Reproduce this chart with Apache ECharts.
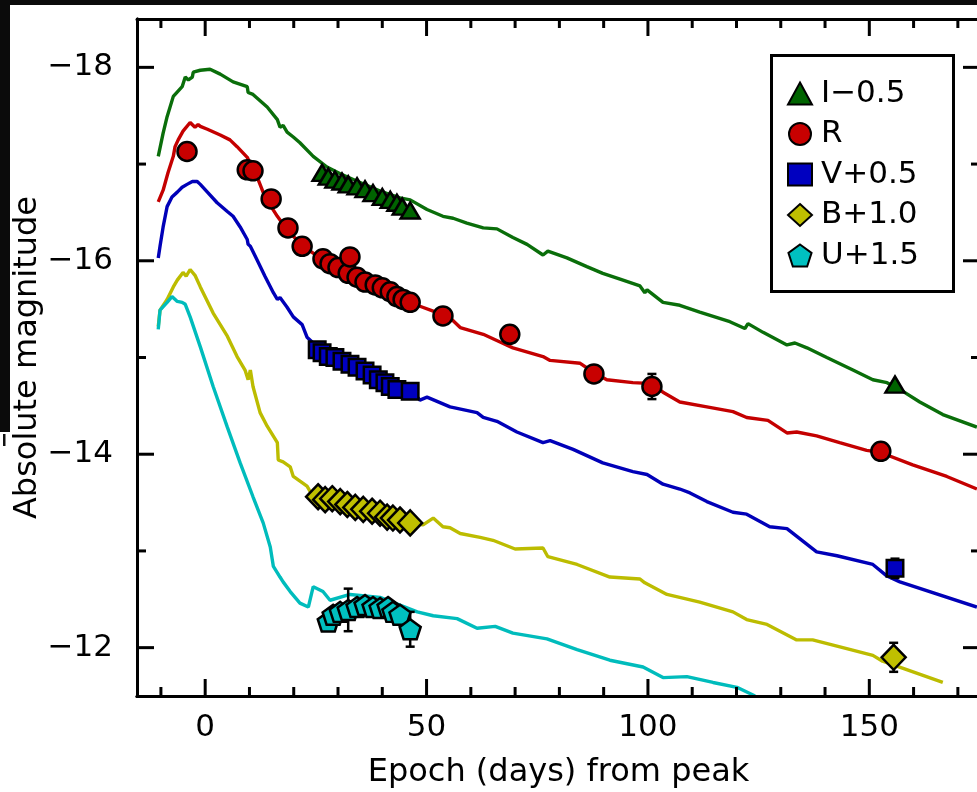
<!DOCTYPE html>
<html>
<head>
<meta charset="utf-8">
<script src="https://cdn.jsdelivr.net/npm/echarts@6/dist/echarts.min.js"></script>
<style>
  html, body { margin: 0; padding: 0; background: #fff; }
  #wrap { position: relative; width: 977px; height: 792px; }
  #chart, #frame { position: absolute; left: 0; top: 0; width: 977px; height: 792px; }
  #frame { pointer-events: none; }
</style>
</head>
<body>
<div id="wrap">
  <div id="chart"></div>
  <div id="frame"></div>
</div>
<script>
// Axis ranges and tick positions
const X_MIN = -15.4, X_MAX = 175;
const Y_MIN = -18.5, Y_MAX = -11.5;
const xMajorTicks = [0, 50, 100, 150];
const xMinorTicks = [-10, 10, 20, 30, 40, 60, 70, 80, 90, 110, 120, 130, 140, 160, 170];
const yMajorTicks = [-18, -16, -14, -12];
const yMinorTicks = [-17, -15, -13];

// Band names (offsets applied as listed)
const bandNames = ['I\u22120.5', 'R', 'V+0.5', 'B+1.0', 'U+1.5'];

// Template light curves: [days from peak, absolute magnitude]
const iLine = [[-10.6,-17.08],[-9.5,-17.32],[-8.6,-17.49],[-7.2,-17.70],[-5.2,-17.80],[-4.5,-17.90],[-3.8,-17.87],[-2.9,-17.90],[-2.7,-17.95],[-1.1,-17.97],[1.1,-17.98],[3.4,-17.93],[6.3,-17.85],[9.5,-17.80],[9.7,-17.74],[10.8,-17.72],[14.0,-17.59],[16.3,-17.46],[16.9,-17.38],[17.6,-17.40],[18.5,-17.33],[19.9,-17.28],[21.4,-17.22],[24.4,-17.08],[27.5,-16.97],[30.5,-16.90],[35.0,-16.81],[39.5,-16.72],[44.0,-16.65],[46.3,-16.63],[50.1,-16.53],[53.7,-16.46],[56.0,-16.44],[59.1,-16.39],[62.8,-16.34],[65.9,-16.33],[69.5,-16.24],[72.7,-16.17],[76.3,-16.06],[77.4,-16.10],[81.7,-16.03],[86.2,-15.94],[89.8,-15.87],[93.7,-15.81],[98.2,-15.74],[99.3,-15.67],[99.8,-15.70],[103.4,-15.57],[107.2,-15.54],[111.7,-15.47],[118.5,-15.37],[121.9,-15.30],[122.6,-15.35],[126.0,-15.26],[131.4,-15.13],[133.2,-15.15],[135.9,-15.10],[140.4,-15.00],[146.3,-14.87],[150.8,-14.77],[154.0,-14.74],[157.6,-14.65],[161.4,-14.54],[166.6,-14.41],[174.3,-14.28]];
const rLine = [[-10.6,-16.61],[-9.5,-16.73],[-8.4,-16.91],[-7.2,-17.08],[-6.8,-17.18],[-6.1,-17.25],[-5.0,-17.34],[-3.4,-17.43],[-2.3,-17.38],[-1.6,-17.41],[-1.1,-17.39],[0.5,-17.36],[3.4,-17.30],[5.6,-17.25],[7.2,-17.18],[9.5,-17.07],[10.8,-16.94],[11.7,-16.87],[13.5,-16.66],[16.3,-16.46],[18.5,-16.32],[22.1,-16.15],[25.3,-16.05],[28.2,-15.98],[32.7,-15.89],[37.2,-15.78],[41.8,-15.67],[46.3,-15.58],[48.5,-15.53],[51.5,-15.48],[55.3,-15.41],[57.6,-15.31],[62.8,-15.24],[66.6,-15.16],[69.5,-15.10],[76.3,-15.01],[77.9,-14.97],[84.7,-14.94],[87.6,-14.85],[90.7,-14.77],[96.6,-14.74],[101.1,-14.73],[103.4,-14.64],[107.2,-14.54],[113.3,-14.49],[119.2,-14.44],[122.3,-14.38],[127.1,-14.35],[131.4,-14.22],[133.6,-14.23],[138.1,-14.19],[143.3,-14.12],[149.4,-14.04],[152.4,-14.02],[159.8,-13.89],[167.5,-13.77],[174.3,-13.64]];
const vLine = [[-10.6,-16.03],[-10.2,-16.15],[-9.5,-16.35],[-8.6,-16.56],[-7.5,-16.66],[-6.3,-16.71],[-5.2,-16.76],[-4.1,-16.79],[-2.9,-16.82],[-2.7,-16.84],[-1.8,-16.82],[-1.1,-16.79],[0.5,-16.71],[2.7,-16.60],[5.0,-16.51],[6.3,-16.46],[7.9,-16.35],[9.5,-16.22],[9.7,-16.17],[10.2,-16.15],[11.7,-16.01],[13.5,-15.84],[15.4,-15.67],[16.3,-15.60],[16.9,-15.62],[18.5,-15.52],[19.9,-15.42],[21.9,-15.34],[23.0,-15.21],[24.4,-15.15],[26.0,-15.08],[30.5,-14.98],[35.0,-14.88],[39.5,-14.77],[44.0,-14.68],[47.0,-14.64],[48.5,-14.56],[50.1,-14.59],[55.3,-14.49],[61.4,-14.43],[62.8,-14.38],[65.9,-14.34],[70.4,-14.23],[76.3,-14.12],[77.9,-14.14],[83.1,-14.05],[89.8,-13.91],[96.6,-13.82],[99.8,-13.79],[103.4,-13.69],[107.2,-13.64],[109.5,-13.60],[113.3,-13.51],[119.2,-13.40],[122.3,-13.38],[127.5,-13.25],[131.4,-13.23],[138.1,-12.99],[142.7,-12.95],[150.8,-12.86],[154.0,-12.74],[156.9,-12.68],[174.3,-12.42]];
const bLine = [[-10.6,-15.32],[-10.2,-15.49],[-8.6,-15.60],[-7.2,-15.73],[-6.3,-15.80],[-5.0,-15.88],[-4.3,-15.84],[-3.4,-15.91],[-2.3,-15.85],[-1.1,-15.73],[1.8,-15.46],[5.0,-15.22],[7.2,-15.01],[9.0,-14.87],[9.7,-14.77],[10.2,-14.87],[10.8,-14.70],[12.4,-14.43],[14.0,-14.29],[16.3,-14.12],[16.5,-13.94],[17.6,-13.92],[19.2,-13.87],[19.9,-13.77],[23.0,-13.67],[24.4,-13.56],[26.0,-13.53],[30.5,-13.48],[35.0,-13.42],[39.5,-13.35],[44.0,-13.31],[47.0,-13.28],[49.2,-13.27],[51.5,-13.34],[53.7,-13.25],[55.3,-13.24],[57.6,-13.18],[62.1,-13.14],[65.0,-13.11],[70.0,-13.02],[76.3,-13.03],[77.4,-12.94],[84.0,-12.86],[91.4,-12.73],[98.2,-12.71],[99.3,-12.67],[104.3,-12.55],[111.7,-12.47],[119.2,-12.37],[122.3,-12.29],[126.9,-12.24],[133.6,-12.08],[137.2,-12.08],[144.9,-11.99],[150.8,-11.92],[153.0,-11.86],[166.6,-11.64]];
const uLine = [[-10.6,-15.29],[-10.2,-15.49],[-8.6,-15.57],[-7.5,-15.63],[-6.3,-15.58],[-5.2,-15.57],[-4.5,-15.55],[-3.4,-15.42],[-1.1,-15.11],[1.8,-14.70],[5.0,-14.28],[7.9,-13.91],[10.8,-13.56],[13.1,-13.29],[14.7,-13.04],[15.4,-12.84],[16.9,-12.73],[17.6,-12.68],[19.2,-12.58],[21.4,-12.46],[23.3,-12.42],[24.4,-12.63],[26.6,-12.58],[28.2,-12.49],[32.7,-12.55],[39.5,-12.52],[47.9,-12.37],[51.5,-12.33],[56.9,-12.30],[61.4,-12.20],[65.5,-12.22],[69.5,-12.15],[77.2,-12.09],[84.0,-11.98],[91.4,-11.87],[98.9,-11.80],[103.4,-11.69],[108.8,-11.70],[114.7,-11.64],[120.1,-11.59],[124.2,-11.50]];

// Photometry: [days from peak, absolute magnitude, error]
const iPts = [[26.4,-16.91,0],[27.8,-16.87,0],[29.3,-16.84,0],[30.9,-16.82,0],[32.3,-16.79,0],[34.3,-16.77,0],[36.1,-16.74,0],[37.9,-16.70,0],[40.0,-16.66,0],[41.8,-16.63,0],[43.3,-16.60,0],[44.5,-16.56,0],[46.3,-16.52,0],[155.8,-14.72,0]];
const rPts = [[-4.1,-17.13,0],[9.5,-16.94,0],[10.8,-16.93,0],[14.9,-16.64,0],[18.7,-16.34,0],[21.9,-16.15,0],[26.6,-16.02,0],[28.2,-15.97,0],[30.0,-15.93,0],[32.3,-15.87,0],[32.7,-16.04,0],[34.3,-15.83,0],[36.1,-15.78,0],[38.4,-15.75,0],[40.0,-15.72,0],[41.8,-15.68,0],[43.3,-15.63,0],[44.7,-15.60,0],[46.3,-15.57,0],[53.7,-15.43,0],[68.8,-15.24,0],[87.8,-14.83,0],[100.9,-14.70,0.13],[152.6,-14.03,0]];
const vPts = [[25.3,-15.08,0],[26.4,-15.05,0],[27.8,-15.01,0],[29.3,-15.00,0],[30.9,-14.96,0],[32.7,-14.93,0],[34.3,-14.90,0],[36.1,-14.86,0],[37.7,-14.82,0],[39.1,-14.77,0],[40.6,-14.74,0],[41.8,-14.70,0],[43.3,-14.67,0],[46.3,-14.65,0],[155.8,-12.82,0.1]];
const bPts = [[25.5,-13.56,0],[27.1,-13.53,0],[28.7,-13.54,0],[30.5,-13.51,0],[32.1,-13.48,0],[33.9,-13.45,0],[35.7,-13.43,0],[37.7,-13.41,0],[39.5,-13.39,0],[41.1,-13.35,0],[42.4,-13.34,0],[44.0,-13.32,0],[46.3,-13.29,0],[155.5,-11.90,0.15]];
const uPts = [[27.8,-12.27,0],[28.9,-12.34,0],[30.5,-12.37,0],[32.3,-12.39,0.22],[34.3,-12.42,0],[36.1,-12.44,0],[37.9,-12.42,0],[39.5,-12.41,0],[41.3,-12.42,0],[42.4,-12.37,0],[44.0,-12.34,0],[46.3,-12.19,0.18]];

// Styling per band
const lineColors = ['#0a6e0a', '#c40000', '#0000b8', '#bcbc00', '#00bcbc'];
const fillColors = ['#006400', '#c80000', '#0000c0', '#bfbf00', '#00c0c0'];
const PENTAGON = 'path://M50 0 L97.55 34.55 L79.39 90.45 L20.61 90.45 L2.45 34.55 Z';
const symbols = ['triangle', 'circle', 'rect', 'diamond', PENTAGON];
const symbolSizes = [[19, 16], 19, 16.5, [24, 25], [21, 20]];

const FONT = 'DejaVu Sans';
const MAJOR_LEN = 17, MINOR_LEN = 9, TICK_W = 3;
const GRID = { left: 137, right: -3, top: 19, bottom: 96, outerBoundsMode: 'none' };
const lines = [iLine, rLine, vLine, bLine, uLine];
const points = [iPts, rPts, vPts, bPts, uPts];

function minusSign(v) { return String(v).replace('-', '\u2212'); }

// Error bars with small caps
function renderErrorBar(params, api) {
  const x = api.value(0), y = api.value(1), e = api.value(2);
  const top = api.coord([x, y - e]);
  const bot = api.coord([x, y + e]);
  const cap = 4.5, w = 2.5;
  return { type: 'group', children: [
    { type: 'rect', shape: { x: top[0] - w / 2, y: top[1], width: w, height: bot[1] - top[1] }, style: { fill: '#000' } },
    { type: 'rect', shape: { x: top[0] - cap, y: top[1] - w / 2, width: cap * 2, height: w }, style: { fill: '#000' } },
    { type: 'rect', shape: { x: bot[0] - cap, y: bot[1] - w / 2, width: cap * 2, height: w }, style: { fill: '#000' } }
  ] };
}

// Inward tick marks on all four sides, placed through the axis scales
function renderXTick(params, api) {
  const v = api.value(0), len = api.value(2);
  const b = api.coord([v, Y_MAX]);
  const t = api.coord([v, Y_MIN]);
  return { type: 'group', children: [
    { type: 'rect', shape: { x: b[0] - TICK_W / 2, y: b[1] - len, width: TICK_W, height: len }, style: { fill: '#000' } },
    { type: 'rect', shape: { x: t[0] - TICK_W / 2, y: t[1], width: TICK_W, height: len }, style: { fill: '#000' } }
  ] };
}
function renderYTick(params, api) {
  const v = api.value(1), len = api.value(2);
  const l = api.coord([X_MIN, v]);
  const r = api.coord([X_MAX, v]);
  return { type: 'group', children: [
    { type: 'rect', shape: { x: l[0], y: l[1] - TICK_W / 2, width: len, height: TICK_W }, style: { fill: '#000' } },
    { type: 'rect', shape: { x: r[0] - len, y: r[1] - TICK_W / 2, width: len, height: TICK_W }, style: { fill: '#000' } }
  ] };
}
const xTickData = xMajorTicks.map(v => [v, Y_MAX, MAJOR_LEN]).concat(xMinorTicks.map(v => [v, Y_MAX, MINOR_LEN]));
const yTickData = yMajorTicks.map(v => [X_MIN, v, MAJOR_LEN]).concat(yMinorTicks.map(v => [X_MIN, v, MINOR_LEN]));

// Main plot: curves, photometry, labels and legend
const series = [];
lines.forEach((ln, i) => {
  series.push({
    name: bandNames[i] + ' template', type: 'line', data: ln,
    showSymbol: false, symbol: 'none', smooth: false, z: 2,
    lineStyle: { color: lineColors[i], width: 3.4 }
  });
});
const errData = [];
points.forEach(p => p.forEach(d => { if (d[2] > 0) errData.push(d); }));
series.push({ name: 'errors', type: 'custom', z: 3, clip: false, renderItem: renderErrorBar, data: errData });
points.forEach((p, i) => {
  series.push({
    name: bandNames[i], type: 'scatter', z: 4,
    data: p.map(d => [d[0], d[1]]),
    symbol: symbols[i], symbolSize: symbolSizes[i],
    itemStyle: { color: fillColors[i], borderColor: '#000', borderWidth: 2.5, opacity: 1 }
  });
});

const chart = echarts.init(document.getElementById('chart'));
chart.setOption({
  backgroundColor: '#fff',
  animation: false,
  textStyle: { fontFamily: FONT },
  grid: GRID,
  xAxis: [
    {
      type: 'value', position: 'bottom', min: X_MIN, max: X_MAX,
      axisLine: { show: true, onZero: false, lineStyle: { color: '#000', width: 3 } },
      axisTick: { show: false }, splitLine: { show: false },
      axisLabel: { show: true, customValues: xMajorTicks, margin: 16, color: '#000', fontSize: 31, fontFamily: FONT, formatter: minusSign },
      name: 'Epoch (days) from peak', nameLocation: 'middle', nameGap: 61, nameMoveOverlap: false,
      nameTextStyle: { color: '#000', fontSize: 32, fontFamily: FONT }
    },
    {
      type: 'value', position: 'top', min: X_MIN, max: X_MAX,
      axisLine: { show: true, onZero: false, lineStyle: { color: '#000', width: 3 } },
      axisTick: { show: false }, axisLabel: { show: false }, splitLine: { show: false }
    }
  ],
  yAxis: [
    {
      type: 'value', position: 'left', min: Y_MIN, max: Y_MAX, inverse: true,
      axisLine: { show: true, onZero: false, lineStyle: { color: '#000', width: 3 } },
      axisTick: { show: false }, splitLine: { show: false },
      axisLabel: { show: true, customValues: yMajorTicks, margin: 24, color: '#000', fontSize: 31, fontFamily: FONT, formatter: minusSign },
      name: 'Absolute magnitude', nameLocation: 'middle', nameGap: 93, nameMoveOverlap: false,
      nameTextStyle: { color: '#000', fontSize: 32, fontFamily: FONT }
    },
    {
      type: 'value', position: 'right', min: Y_MIN, max: Y_MAX, inverse: true,
      axisLine: { show: true, onZero: false, lineStyle: { color: '#000', width: 3 } },
      axisTick: { show: false }, axisLabel: { show: false }, splitLine: { show: false }
    }
  ],
  legend: {
    data: bandNames, orient: 'vertical', left: 782, top: 73,
    itemWidth: 24, itemHeight: 22, itemGap: 9.5, selectedMode: false,
    textStyle: { color: '#000', fontSize: 31, fontFamily: FONT, padding: [0, 0, 0, 4] }
  },
  graphic: [
    { type: 'rect', left: 769, top: 53, z: 100, shape: { width: 182, height: 236 }, style: { fill: 'none', stroke: '#000', lineWidth: 3 } },
    { type: 'rect', left: 0, top: 0, z: 100, shape: { width: 977, height: 5 }, style: { fill: '#0b0b0b' } },
    { type: 'rect', left: 0, top: 0, z: 100, shape: { width: 10, height: 432 }, style: { fill: '#0b0b0b' } },
    { type: 'rect', left: 3, top: 434, z: 100, shape: { width: 2.5, height: 12 }, style: { fill: '#111' } }
  ],
  series: series
});

// Frame layer: the same grid and scales, carrying the axis frame and its inward ticks
const frame = echarts.init(document.getElementById('frame'));
frame.setOption({
  backgroundColor: 'transparent',
  animation: false,
  grid: GRID,
  xAxis: [{
    type: 'value', min: X_MIN, max: X_MAX,
    axisLine: { show: true, onZero: false, lineStyle: { color: '#000', width: 3 } },
    axisTick: { show: false }, axisLabel: { show: false }, splitLine: { show: false }
  }],
  yAxis: [{
    type: 'value', min: Y_MIN, max: Y_MAX, inverse: true,
    axisLine: { show: true, onZero: false, lineStyle: { color: '#000', width: 3 } },
    axisTick: { show: false }, axisLabel: { show: false }, splitLine: { show: false }
  }],
  series: [
    { name: 'x ticks', type: 'custom', clip: false, renderItem: renderXTick, data: xTickData },
    { name: 'y ticks', type: 'custom', clip: false, renderItem: renderYTick, data: yTickData }
  ]
});
</script>
</body>
</html>
